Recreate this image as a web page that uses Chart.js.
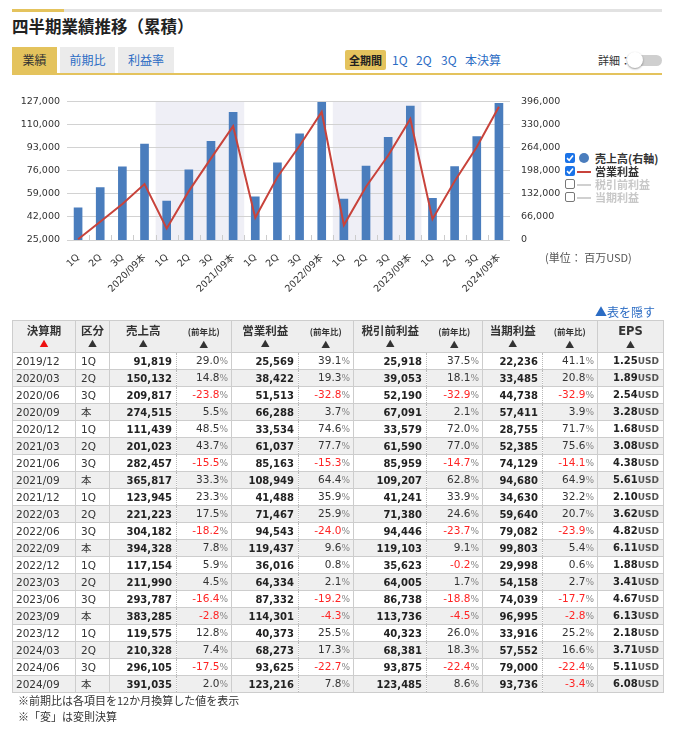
<!DOCTYPE html>
<html lang="ja">
<head>
<meta charset="utf-8">
<script src="https://cdn.jsdelivr.net/npm/chart.js@4.4.1/dist/chart.umd.min.js"></script>
<style>
  body { margin: 0; width: 680px; height: 730px; position: relative; overflow: hidden; background: #fff;
         font-family: "Noto Sans CJK JP", "DejaVu Sans", sans-serif; color: #333; }
  .abs { position: absolute; }
  .topline { left: 12px; top: 9px; width: 650px; height: 3px; background: #e2e2e2; }
  .topline span { position: absolute; left: 0; top: 0; width: 52px; height: 3px; background: #e4c35d; }
  h1 { position: absolute; left: 12px; top: 14px; margin: 0; font-size: 16.5px; font-weight: bold; color: #222; line-height: 24px; }
  .tab { position: absolute; top: 47px; height: 26px; line-height: 26px; text-align: center; font-size: 12px;
         background: #ebebeb; color: #2b6cc4; }
  .tab.on { background: #e4c35d; color: #333; }
  .tabline { left: 12px; top: 73px; width: 650px; height: 2px; background: #e4c35d; }
  .period { position: absolute; top: 50px; height: 20px; line-height: 20px; font-size: 12px; color: #2b6cc4; }
  .period.on { background: #e4c35d; color: #222; font-weight: bold; font-size: 11px; padding: 0 4px; border-radius: 2px; }
  .detail { left: 598px; top: 51px; font-size: 11px; color: #333; line-height: 18px; }
  .track { left: 630px; top: 55px; width: 32px; height: 11px; border-radius: 6px; background: #cfcfcf; }
  .knob { left: 627px; top: 52px; width: 16px; height: 16px; border-radius: 50%; background: #fff; box-shadow: 0 1px 2px rgba(0,0,0,0.4); }
  #chartBox { position: absolute; left: 0; top: 85px; width: 565px; height: 215px; }
  .lg { position: absolute; left: 565px; height: 13px; line-height: 13px; font-size: 11px; font-weight: bold; white-space: nowrap; }
  .cb { position: absolute; left: 0; top: 1px; width: 10px; height: 10px; border-radius: 2px; box-sizing: border-box; }
  .cb.on { background: #1a73e8; }
  .cb.off { border: 1px solid #777; background: #fff; }
  .cb.on svg { position: absolute; left: 1px; top: 1px; }
  .lg .txt { position: absolute; left: 30px; top: 0; }
  .unit { left: 545px; top: 249px; font-size: 11px; color: #555; }
  .hide { left: 595px; top: 303px; font-size: 12px; color: #2b6cc4; }
  table { position: absolute; left: 12px; top: 320px; width: 651px; border-collapse: collapse; table-layout: fixed;
          font-family: "DejaVu Sans", "Noto Sans CJK JP", sans-serif; font-size: 10.5px; color: #333; }
  th, td { border: 1px solid #cdcdcd; padding: 0; white-space: nowrap; overflow: hidden; }
  th { height: 28px; background: #eeeeee; vertical-align: top; font-family: "Noto Sans CJK JP", sans-serif;
       font-size: 11.5px; font-weight: bold; line-height: 14px; padding-top: 2px; text-align: center; }
  th .sm { font-size: 8.5px; }
  th .tri { font-size: 9px; display: block; margin-top: 0; }
  th .tri.red { color: #ee1111; }
  th.v { border-right-style: hidden; }
  th.y { border-left-style: hidden; }
  tr.r { height: 17px; }
  tr.r td { line-height: 15px; }
  tr.g td { background: #efefef; }
  td.p { padding-left: 3px; }
  td.k { padding-left: 5px; font-family: "DejaVu Sans", "Noto Sans CJK JP", sans-serif; }
  td.v { text-align: right; padding-right: 4px; font-weight: bold; font-size: 10px; color: #222; border-right: 1px dotted #b8b8b8; }
  td.y { text-align: right; padding-right: 3px; border-left: 1px dotted #b8b8b8; }
  td.y .pc { font-size: 9px; color: #888; }
  td.y .neg { color: #ff2424; }
  td.e { text-align: right; padding-right: 4px; font-weight: bold; font-size: 10px; color: #222; }
  td.e .u { font-size: 9px; color: #555; }
  .note { left: 18px; font-size: 11px; color: #333; line-height: 15px; }
</style>
</head>
<body>
<div class="abs topline"><span></span></div>
<h1>四半期業績推移（累積）</h1>
<div class="tab on" style="left:12px;width:45px">業績</div>
<div class="tab" style="left:60px;width:55px">前期比</div>
<div class="tab" style="left:118px;width:56px">利益率</div>
<div class="abs tabline"></div>
<div class="period on" style="left:345px">全期間</div>
<div class="period" style="left:392px">1Q</div>
<div class="period" style="left:416px">2Q</div>
<div class="period" style="left:441px">3Q</div>
<div class="period" style="left:465px">本決算</div>
<div class="abs detail">詳細：</div>
<div class="abs track"></div>
<div class="abs knob"></div>

<div id="chartBox"><canvas id="chart" width="565" height="215"></canvas></div>

<div class="lg" style="top:152px;color:#333">
  <span class="cb on"><svg width="8" height="8" viewBox="0 0 8 8"><path d="M1 4.2 L3.2 6.3 L7 1.6" stroke="#fff" stroke-width="1.6" fill="none"/></svg></span>
  <span style="position:absolute;left:14px;top:1px;width:10px;height:10px;border-radius:50%;background:#4a7dbd"></span>
  <span class="txt">売上高(右軸)</span>
</div>
<div class="lg" style="top:165px;color:#333">
  <span class="cb on"><svg width="8" height="8" viewBox="0 0 8 8"><path d="M1 4.2 L3.2 6.3 L7 1.6" stroke="#fff" stroke-width="1.6" fill="none"/></svg></span>
  <span style="position:absolute;left:12px;top:6px;width:14px;height:2px;background:#c8433b"></span>
  <span class="txt">営業利益</span>
</div>
<div class="lg" style="top:178px;color:#c8c8c8">
  <span class="cb off"></span>
  <span style="position:absolute;left:12px;top:6px;width:14px;height:2px;background:#d0d0d0"></span>
  <span class="txt">税引前利益</span>
</div>
<div class="lg" style="top:191px;color:#c8c8c8">
  <span class="cb off"></span>
  <span style="position:absolute;left:12px;top:6px;width:14px;height:2px;background:#d0d0d0"></span>
  <span class="txt">当期利益</span>
</div>
<div class="abs unit">(単位： 百万USD)</div>
<div class="abs hide">▲表を隠す</div>

<table id="tbl"></table>
<div class="abs note" style="top:693px">※前期比は各項目を12か月換算した値を表示</div>
<div class="abs note" style="top:709px">※「変」は変則決算</div>

<script>
// quarterly data, cumulative (百万USD)
const periods = ['2019/12', '2020/03', '2020/06', '2020/09', '2020/12', '2021/03', '2021/06', '2021/09',
                 '2021/12', '2022/03', '2022/06', '2022/09', '2022/12', '2023/03', '2023/06', '2023/09',
                 '2023/12', '2024/03', '2024/06', '2024/09'];
const kubun = ['1Q', '2Q', '3Q', '本', '1Q', '2Q', '3Q', '本', '1Q', '2Q', '3Q', '本',
               '1Q', '2Q', '3Q', '本', '1Q', '2Q', '3Q', '本'];
const sales = [91819, 150132, 209817, 274515, 111439, 201023, 282457, 365817, 123945, 221223,
               304182, 394328, 117154, 211990, 293787, 383285, 119575, 210328, 296105, 391035];
const salesYoy = [29.0, 14.8, -23.8, 5.5, 48.5, 43.7, -15.5, 33.3, 23.3, 17.5,
                  -18.2, 7.8, 5.9, 4.5, -16.4, -2.8, 12.8, 7.4, -17.5, 2.0];
const opIncome = [25569, 38422, 51513, 66288, 33534, 61037, 85163, 108949, 41488, 71467,
                  94543, 119437, 36016, 64334, 87332, 114301, 40373, 68273, 93625, 123216];
const opYoy = [39.1, 19.3, -32.8, 3.7, 74.6, 77.7, -15.3, 64.4, 35.9, 25.9,
               -24.0, 9.6, 0.8, 2.1, -19.2, -4.3, 25.5, 17.3, -22.7, 7.8];
const pretax = [25918, 39053, 52190, 67091, 33579, 61590, 85959, 109207, 41241, 71380,
                94446, 119103, 35623, 64005, 86738, 113736, 40323, 68381, 93875, 123485];
const pretaxYoy = [37.5, 18.1, -32.9, 2.1, 72.0, 77.0, -14.7, 62.8, 33.9, 24.6,
                   -23.7, 9.1, -0.2, 1.7, -18.8, -4.5, 26.0, 18.3, -22.4, 8.6];
const netIncome = [22236, 33485, 44738, 57411, 28755, 52385, 74129, 94680, 34630, 59640,
                   79082, 99803, 29998, 54158, 74039, 96995, 33916, 57552, 79000, 93736];
const netYoy = [41.1, 20.8, -32.9, 3.9, 71.7, 75.6, -14.1, 64.9, 32.2, 20.7,
                -23.9, 5.4, 0.6, 2.7, -17.7, -2.8, 25.2, 16.6, -22.4, -3.4];
const eps = [1.25, 1.89, 2.54, 3.28, 1.68, 3.08, 4.38, 5.61, 2.10, 3.62,
             4.82, 6.11, 1.88, 3.41, 4.67, 6.13, 2.18, 3.71, 5.11, 6.08];

const leftTicks = [25000, 127000, 17000];   // min, max, step (営業利益)
const rightTicks = [0, 396000, 66000];      // min, max, step (売上高)
const shadedYears = [1, 3];                 // fiscal years with a tinted band

const xLabels = periods.map((p, i) => kubun[i] === '本' ? p + '本' : kubun[i]);

const fmt = v => v.toLocaleString('en-US');
const tickFont = { family: '"DejaVu Sans", "Noto Sans CJK JP"', size: 9.5 };

// tinted fiscal-year bands and the small category ticks on the baseline
const bandPlugin = {
  id: 'bands',
  beforeDraw(chart) {
    const { ctx, chartArea, scales: { x } } = chart;
    const step = x.width / xLabels.length;
    ctx.save();
    ctx.fillStyle = '#efeff6';
    shadedYears.forEach(fy => {
      const x0 = x.getPixelForValue(fy * 4) - step / 2;
      const x1 = x.getPixelForValue(fy * 4 + 3) + step / 2;
      ctx.fillRect(x0, chartArea.top, x1 - x0, chartArea.bottom - chartArea.top);
    });
    ctx.restore();
  },
  beforeDatasetsDraw(chart) {
    const { ctx, chartArea, scales: { x } } = chart;
    const step = x.width / xLabels.length;
    ctx.save();
    ctx.strokeStyle = '#cccccc';
    ctx.lineWidth = 1;
    for (let i = 1; i < xLabels.length; i++) {
      const px = Math.round(x.getPixelForValue(i) - step / 2) + 0.5;
      ctx.beginPath();
      ctx.moveTo(px, chartArea.bottom - 5);
      ctx.lineTo(px, chartArea.bottom);
      ctx.stroke();
    }
    ctx.restore();
  }
};

new Chart(document.getElementById('chart').getContext('2d'), {
  data: {
    labels: xLabels,
    datasets: [
      {
        type: 'line', label: '営業利益', data: opIncome, yAxisID: 'yL',
        borderColor: '#c8433b', borderWidth: 2, pointRadius: 0, tension: 0, order: 0
      },
      {
        type: 'bar', label: '売上高', data: sales, yAxisID: 'yR',
        backgroundColor: '#4a7dbd', barThickness: 8, order: 1
      }
    ]
  },
  options: {
    responsive: false,
    animation: false,
    layout: { padding: { top: 13, left: 0, right: 0, bottom: 0 } },
    plugins: { legend: { display: false }, tooltip: { enabled: false } },
    scales: {
      x: {
        grid: { display: false },
        border: { display: false },
        ticks: { autoSkip: false, minRotation: 45, maxRotation: 45, padding: 4, color: '#333', font: tickFont },
        afterFit(s) { s.height = 60; }
      },
      yL: {
        position: 'left',
        min: leftTicks[0], max: leftTicks[1],
        grid: { color: '#d2d2d2', drawTicks: false },
        border: { display: false },
        ticks: { stepSize: leftTicks[2], padding: 7, color: '#333', font: tickFont, callback: v => fmt(v) },
        afterFit(s) { s.width = 67; }
      },
      yR: {
        position: 'right',
        min: rightTicks[0], max: rightTicks[1],
        grid: { display: false, drawTicks: false },
        border: { display: false },
        ticks: { stepSize: rightTicks[2], padding: 11, color: '#333', font: tickFont, callback: v => fmt(v) },
        afterFit(s) { s.width = 55; }
      }
    }
  },
  plugins: [bandPlugin]
});

// table
const yoyCell = v => {
  const cls = v < 0 ? 'neg' : '';
  return `<td class="y"><span class="${cls}">${v.toFixed(1)}</span><span class="pc">%</span></td>`;
};
let html = '<colgroup>' + [63, 34, 67, 55, 67, 55, 73, 56, 60, 55, 66].map(w => `<col style="width:${w}px">`).join('') + '</colgroup>';
const head = (t, cls, red) => `<th class="${cls}">${t}<span class="tri${red ? ' red' : ''}">▲</span></th>`;
html += '<tr>' + head('決算期', '', true) + head('区分', '') +
  head('売上高', 'v') + head('<span class="sm">(前年比)</span>', 'y') +
  head('営業利益', 'v') + head('<span class="sm">(前年比)</span>', 'y') +
  head('税引前利益', 'v') + head('<span class="sm">(前年比)</span>', 'y') +
  head('当期利益', 'v') + head('<span class="sm">(前年比)</span>', 'y') +
  head('<span style="font-family:DejaVu Sans">EPS</span>', '') + '</tr>';
periods.forEach((p, i) => {
  html += `<tr class="r${i % 2 ? ' g' : ''}">` +
    `<td class="p">${p}</td><td class="k">${kubun[i]}</td>` +
    `<td class="v">${fmt(sales[i])}</td>` + yoyCell(salesYoy[i]) +
    `<td class="v">${fmt(opIncome[i])}</td>` + yoyCell(opYoy[i]) +
    `<td class="v">${fmt(pretax[i])}</td>` + yoyCell(pretaxYoy[i]) +
    `<td class="v">${fmt(netIncome[i])}</td>` + yoyCell(netYoy[i]) +
    `<td class="e">${eps[i].toFixed(2)}<span class="u">USD</span></td></tr>`;
});
document.getElementById('tbl').innerHTML = html;
</script>
</body>
</html>
